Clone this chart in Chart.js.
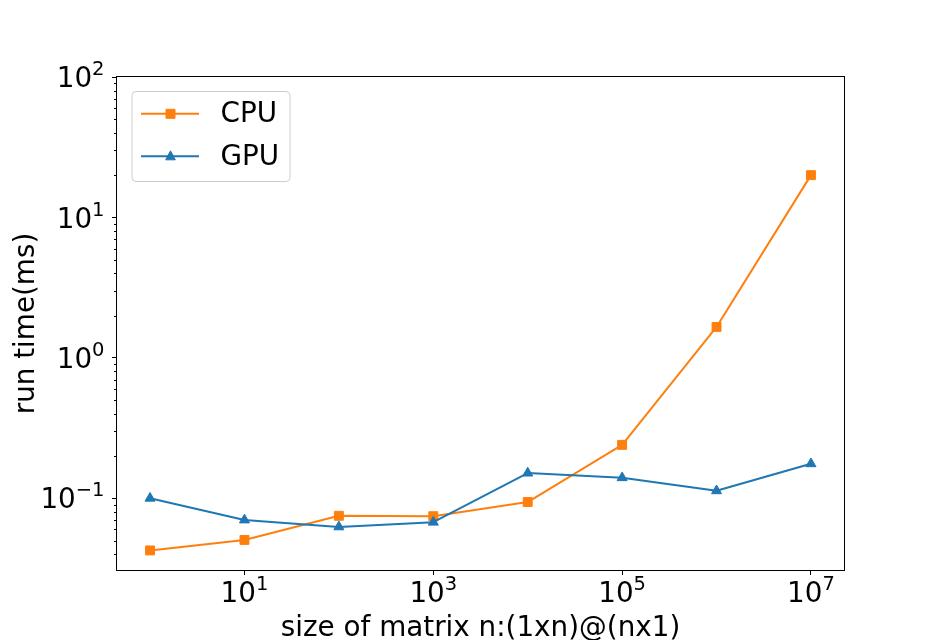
<!DOCTYPE html>
<html>
<head>
<meta charset="utf-8">
<script src="https://cdn.jsdelivr.net/npm/chart.js@4/dist/chart.umd.min.js"></script>
<style>
html,body{margin:0;padding:0;background:#fff;}
#wrap{width:938px;height:640px;position:relative;}
</style>
</head>
<body>
<div id="wrap"><canvas id="c" width="938" height="640"></canvas></div>
<script>
// ---- data ----
const sizes = [1, 10, 100, 1000, 1e4, 1e5, 1e6, 1e7];
const cpuTimes = [0.0425, 0.0505, 0.075, 0.0745, 0.094, 0.24, 1.66, 20.0];
const gpuTimes = [0.100, 0.070, 0.0625, 0.0675, 0.151, 0.140, 0.113, 0.176];
const seriesNames = ['CPU', 'GPU'];
const xTickValues = [1e1, 1e3, 1e5, 1e7];
const yTickValues = [0.1, 1, 10, 100];
const xTitle = 'size of matrix n:(1xn)@(nx1)';
const yTitle = 'run time(ms)';

const FONT = 'DejaVu Sans';
const FS = 27.8;
const FS_SUP = 19.5;

function expParts(v) {
  const e = Math.round(Math.log10(v));
  return {base: '10', exp: (e < 0 ? '\u2212' : '') + Math.abs(e)};
}

// power-of-ten tick labels with real superscripts, positioned by the scales
const powerLabels = {
  id: 'powerLabels',
  afterDraw(chart) {
    const ctx = chart.ctx;
    ctx.save();
    ctx.fillStyle = '#000';
    ctx.textBaseline = 'alphabetic';
    ctx.textAlign = 'left';
    const fMain = FS + 'px "' + FONT + '"';
    const fSup = FS_SUP + 'px "' + FONT + '"';
    // y axis
    const ys = chart.scales.y;
    ys.ticks.forEach(t => {
      const p = expParts(t.value);
      const py = ys.getPixelForValue(t.value);
      ctx.font = fMain; const wb = ctx.measureText(p.base).width;
      ctx.font = fSup; const we = ctx.measureText(p.exp).width;
      const x0 = ys.right - 12.5 - wb - we;
      const base = py + 10.2;
      ctx.font = fMain; ctx.fillText(p.base, x0, base);
      ctx.font = fSup; ctx.fillText(p.exp, x0 + wb, base - 12);
    });
    // x axis
    const xs = chart.scales.x;
    xs.ticks.forEach(t => {
      const p = expParts(t.value);
      const px = xs.getPixelForValue(t.value);
      ctx.font = fMain; const wb = ctx.measureText(p.base).width;
      ctx.font = fSup; const we = ctx.measureText(p.exp).width;
      const x0 = px - (wb + we) / 2;
      const base = xs.top + 32;
      ctx.font = fMain; ctx.fillText(p.base, x0, base);
      ctx.font = fSup; ctx.fillText(p.exp, x0 + wb, base - 12);
    });
    ctx.restore();
  }
};

// minor ticks on the y axis (log subs 2..9)
const minorTicks = {
  id: 'minorTicks',
  afterDraw(chart) {
    const s = chart.scales.y, ctx = chart.ctx;
    ctx.save();
    ctx.strokeStyle = '#000';
    ctx.lineWidth = 1;
    ctx.beginPath();
    for (let d = -3; d <= 2; d++) {
      for (let k = 2; k <= 9; k++) {
        const v = k * Math.pow(10, d);
        if (v < s.min || v > s.max) continue;
        const y = Math.round(s.getPixelForValue(v)) + 0.5;
        ctx.moveTo(s.right - 3, y);
        ctx.lineTo(s.right, y);
      }
    }
    ctx.stroke();
    ctx.restore();
  }
};

// axes frame (all four spines)
const frame = {
  id: 'frame',
  afterDatasetsDraw(chart) {
    const a = chart.chartArea, ctx = chart.ctx;
    ctx.save();
    ctx.strokeStyle = '#000';
    ctx.lineWidth = 1;
    ctx.strokeRect(Math.round(a.left) - 0.5, Math.round(a.top) - 0.5,
                   Math.round(a.right - a.left) + 1, Math.round(a.bottom - a.top) + 1);
    ctx.restore();
  }
};

// matplotlib-style legend (line + marker)
const mplLegend = {
  id: 'mplLegend',
  afterDraw(chart) {
    const ctx = chart.ctx;
    const bx = 132, by = 91.5, bw = 158, bh = 90, r = 4;
    ctx.save();
    ctx.beginPath();
    ctx.moveTo(bx + r, by);
    ctx.lineTo(bx + bw - r, by);
    ctx.arcTo(bx + bw, by, bx + bw, by + r, r);
    ctx.lineTo(bx + bw, by + bh - r);
    ctx.arcTo(bx + bw, by + bh, bx + bw - r, by + bh, r);
    ctx.lineTo(bx + r, by + bh);
    ctx.arcTo(bx, by + bh, bx, by + bh - r, r);
    ctx.lineTo(bx, by + r);
    ctx.arcTo(bx, by, bx + r, by, r);
    ctx.closePath();
    ctx.fillStyle = 'rgba(255,255,255,0.8)';
    ctx.fill();
    ctx.strokeStyle = '#cccccc';
    ctx.lineWidth = 1;
    ctx.stroke();

    chart.data.datasets.forEach((ds, i) => {
      const y = 113.8 + i * 42.5;
      ctx.strokeStyle = ds.borderColor;
      ctx.lineWidth = 2;
      ctx.beginPath();
      ctx.moveTo(141, y);
      ctx.lineTo(199, y);
      ctx.stroke();
      ctx.fillStyle = ds.borderColor;
      const cx = 170.5;
      ctx.beginPath();
      if (ds.pointStyle === 'rect') {
        ctx.rect(cx - 4.5, y - 4.5, 9, 9);
      } else {
        ctx.moveTo(cx, y - 5.5);
        ctx.lineTo(cx + 4.8, y + 3.5);
        ctx.lineTo(cx - 4.8, y + 3.5);
        ctx.closePath();
      }
      ctx.fill();
      ctx.lineWidth = 1;
      ctx.stroke();
      ctx.fillStyle = '#000';
      ctx.font = FS + 'px "' + FONT + '"';
      ctx.textBaseline = 'middle';
      ctx.textAlign = 'left';
      ctx.fillText(ds.label, 220.5, y + 1);
    });
    ctx.restore();
  }
};

Chart.defaults.font.family = FONT;
Chart.defaults.color = '#000';

new Chart(document.getElementById('c'), {
  type: 'line',
  data: {
    datasets: [
      {
        label: seriesNames[0],
        data: sizes.map((x, i) => ({x: x, y: cpuTimes[i]})),
        borderColor: '#ff7f0e',
        backgroundColor: '#ff7f0e',
        pointStyle: 'rect',
        pointRadius: 6.3,
        pointBorderWidth: 1,
        borderWidth: 2,
        borderJoinStyle: 'round',
        tension: 0,
        order: 1
      },
      {
        label: seriesNames[1],
        data: sizes.map((x, i) => ({x: x, y: gpuTimes[i]})),
        borderColor: '#1f77b4',
        backgroundColor: '#1f77b4',
        pointStyle: 'triangle',
        pointRadius: 5.8,
        pointBorderWidth: 1,
        borderWidth: 2,
        borderJoinStyle: 'round',
        tension: 0,
        order: 0
      }
    ]
  },
  options: {
    responsive: false,
    animation: false,
    devicePixelRatio: 1,
    layout: {padding: {left: 0, top: 77, right: 94, bottom: 0}},
    plugins: {legend: {display: false}, tooltip: {enabled: false}},
    scales: {
      x: {
        type: 'logarithmic',
        bounds: 'data',
        min: Math.pow(10, -0.35),
        max: Math.pow(10, 7.35),
        afterBuildTicks: s => { s.ticks = xTickValues.map(v => ({value: v, major: true})); },
        afterFit: s => { s.height = 70; },
        ticks: {display: false, autoSkip: false, maxRotation: 0},
        grid: {drawOnChartArea: false, drawTicks: true, tickLength: 5, tickColor: '#000', tickWidth: 1},
        border: {display: false},
        title: {
          display: true, text: xTitle, color: '#000',
          font: {family: FONT, size: FS, lineHeight: 1.12},
          padding: {top: 0, bottom: -4}
        }
      },
      y: {
        type: 'logarithmic',
        bounds: 'data',
        min: Math.pow(10, -1.511),
        max: 100,
        afterBuildTicks: s => { s.ticks = yTickValues.map(v => ({value: v, major: true})); },
        afterFit: s => { s.width = 117; },
        ticks: {display: false, autoSkip: false},
        grid: {drawOnChartArea: false, drawTicks: true, tickLength: 5, tickColor: '#000', tickWidth: 1},
        border: {display: false},
        title: {
          display: true, text: yTitle, color: '#000',
          font: {family: FONT, size: FS, lineHeight: 1.2},
          padding: {top: 10, bottom: 0}
        }
      }
    }
  },
  plugins: [minorTicks, frame, powerLabels, mplLegend]
});
</script>
</body>
</html>
